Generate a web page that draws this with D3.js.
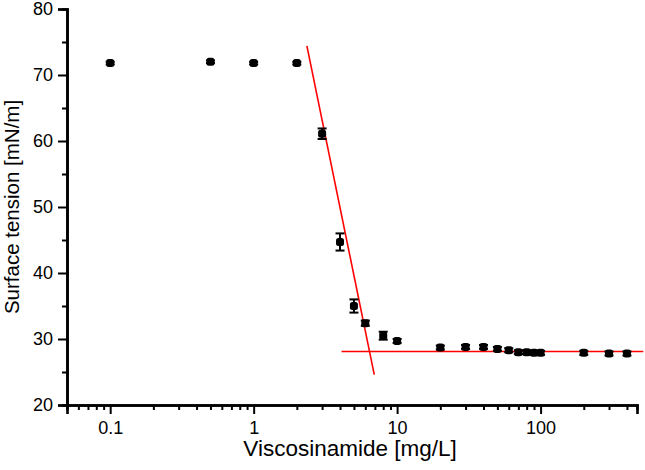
<!DOCTYPE html>
<html>
<head>
<meta charset="utf-8">
<script src="https://cdn.jsdelivr.net/npm/d3@7/dist/d3.min.js"></script>
<style>
	body{margin:0;background:#fff;}
	#chart{width:645px;height:470px;}
	text{font-family:Arial,"Liberation Sans",sans-serif;fill:#000;}
</style>
</head>
<body>
<div id="chart"><svg></svg></div>
<script>
// concentration [mg/L]
var conc = [0.1, 0.5, 1, 2, 3, 4, 5, 6, 8, 10, 20, 30, 40, 50, 60, 70, 80, 90, 100, 200, 300, 400];
// surface tension [mN/m]
var tension = [71.8, 72.0, 71.8, 71.8, 61.1, 44.7, 35.0, 32.4, 30.5, 29.7, 28.7, 28.8, 28.8, 28.5, 28.3, 28.0, 28.0, 27.9, 27.9, 27.9, 27.8, 27.8];
var tensionErr = [0.2, 0.2, 0.2, 0.2, 0.8, 1.3, 1.0, 0.4, 0.6, 0.3, 0.3, 0.3, 0.3, 0.3, 0.3, 0.3, 0.3, 0.3, 0.3, 0.3, 0.3, 0.3];
// fitted lines
var steepX = [2.35, 6.93], steepY = [74.4, 24.6];
var flatX = [4.1, 520], flatY = [28.1, 28.1];
// axes
var xDomain = [0.05, 470], yDomain = [20, 80];
var xTicks = [0.1, 1, 10, 100];
var xMinor = [0.06, 0.07, 0.08, 0.09, 0.2, 0.3, 0.4, 0.5, 0.6, 0.7, 0.8, 0.9, 2, 3, 4, 5, 6, 7, 8, 9, 20, 30, 40, 50, 60, 70, 80, 90, 200, 300, 400];
var yTicks = [20, 30, 40, 50, 60, 70, 80];
var yMinor = [25, 35, 45, 55, 65, 75];

var W = 645, H = 470;
var mg = {top: 9, right: 8, bottom: 65, left: 67};
var w = W - mg.left - mg.right,
	h = H - mg.top - mg.bottom;

var svg = d3.select("#chart > svg").attr("width", W).attr("height", H);
var g = svg.append("g").attr("transform", "translate(" + mg.left + "," + mg.top + ")");

var x = d3.scaleLog().domain(xDomain).range([0, w]);
var y = d3.scaleLinear().domain(yDomain).range([h, 0]);

var fmtX = function(d){ return d < 1 ? d3.format(".1f")(d) : d3.format("d")(d); };

// x axis
var gx = g.append("g").attr("transform", "translate(0," + h + ")");
gx.append("g").call(d3.axisBottom(x).tickValues(xMinor).tickSize(5).tickFormat(""));
gx.append("g").call(d3.axisBottom(x).tickValues(xTicks).tickSize(9).tickPadding(7).tickFormat(fmtX));

// y axis
var gy = g.append("g");
gy.append("g").call(d3.axisLeft(y).tickValues(yMinor).tickSize(5).tickFormat(""));
gy.append("g").call(d3.axisLeft(y).tickValues(yTicks).tickSize(9).tickPadding(5).tickFormat(d3.format("d")));

g.selectAll(".domain").attr("stroke", "#000").attr("stroke-width", 2.6);
g.selectAll(".tick line").attr("stroke", "#000").attr("stroke-width", 2);
g.selectAll(".tick text").style("font-size", "18px");

// axis titles
svg.append("text")
	.attr("x", 350).attr("y", 456)
	.attr("text-anchor", "middle")
	.style("font-size", "22.5px")
	.text("Viscosinamide [mg/L]");
svg.append("text")
	.attr("transform", "translate(19," + (mg.top + h / 2) + ") rotate(-90)")
	.attr("text-anchor", "middle")
	.style("font-size", "20.5px")
	.text("Surface tension [mN/m]");

// fit lines
var line = d3.line().x(function(d){ return x(d[0]); }).y(function(d){ return y(d[1]); });
g.append("path").datum(d3.zip(steepX, steepY))
	.attr("d", line).attr("fill", "none").attr("stroke", "#ff0000").attr("stroke-width", 1.6);
g.append("path").datum(d3.zip(flatX, flatY))
	.attr("d", line).attr("fill", "none").attr("stroke", "#ff0000").attr("stroke-width", 1.6);

// points with error bars
var pts = conc.map(function(c, i){ return {c: c, t: tension[i], e: tensionErr[i]}; });
var cap = 4.5;
var pg = g.selectAll(".pt").data(pts).enter().append("g").attr("class", "pt");
pg.append("line")
	.attr("x1", function(d){ return x(d.c); }).attr("x2", function(d){ return x(d.c); })
	.attr("y1", function(d){ return y(d.t + d.e); }).attr("y2", function(d){ return y(d.t - d.e); })
	.attr("stroke", "#000").attr("stroke-width", 2);
pg.append("line")
	.attr("x1", function(d){ return x(d.c) - cap; }).attr("x2", function(d){ return x(d.c) + cap; })
	.attr("y1", function(d){ return y(d.t + d.e); }).attr("y2", function(d){ return y(d.t + d.e); })
	.attr("stroke", "#000").attr("stroke-width", 2);
pg.append("line")
	.attr("x1", function(d){ return x(d.c) - cap; }).attr("x2", function(d){ return x(d.c) + cap; })
	.attr("y1", function(d){ return y(d.t - d.e); }).attr("y2", function(d){ return y(d.t - d.e); })
	.attr("stroke", "#000").attr("stroke-width", 2);
pg.append("rect")
	.attr("x", function(d){ return x(d.c) - 4; }).attr("y", function(d){ return y(d.t) - 4; })
	.attr("width", 8).attr("height", 8).attr("rx", 2.5)
	.attr("fill", "#000");
</script>
</body>
</html>
